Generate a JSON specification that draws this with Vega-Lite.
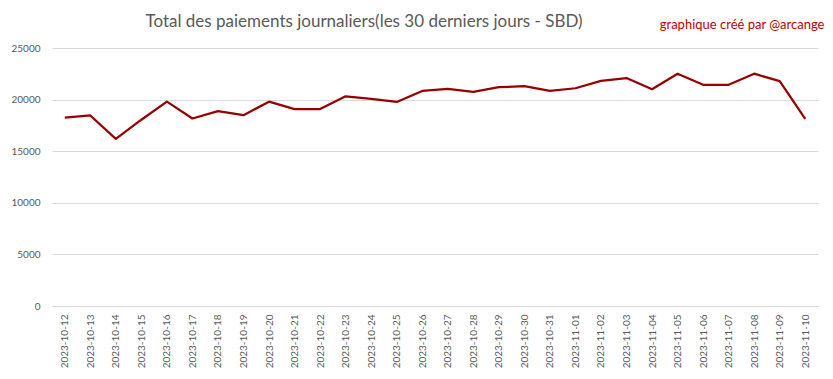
{
  "$schema": "https://vega.github.io/schema/vega-lite/v6.json",
  "width": 766,
  "height": 258,
  "autosize": {"type": "none"},
  "padding": {"left": 52, "top": 48, "right": 15, "bottom": 73},
  "background": "white",
  "config": {
    "font": "Lato",
    "view": {"stroke": null},
    "axis": {"labelFont": "Lato", "titleFont": "Lato"}
  },
  "title": {
    "text": "Total des paiements journaliers(les 30 derniers jours - SBD)",
    "font": "Lato",
    "fontSize": 17,
    "fontWeight": "normal",
    "color": "#595959",
    "anchor": "middle",
    "dx": -71,
    "dy": 17
  },
  "data": {
    "values": [
      {"date": "2023-10-12", "total": 18260},
      {"date": "2023-10-13", "total": 18460},
      {"date": "2023-10-14", "total": 16200},
      {"date": "2023-10-15", "total": 18050},
      {"date": "2023-10-16", "total": 19800},
      {"date": "2023-10-17", "total": 18170},
      {"date": "2023-10-18", "total": 18880},
      {"date": "2023-10-19", "total": 18490},
      {"date": "2023-10-20", "total": 19800},
      {"date": "2023-10-21", "total": 19080},
      {"date": "2023-10-22", "total": 19080},
      {"date": "2023-10-23", "total": 20320},
      {"date": "2023-10-24", "total": 20060},
      {"date": "2023-10-25", "total": 19770},
      {"date": "2023-10-26", "total": 20840},
      {"date": "2023-10-27", "total": 21040},
      {"date": "2023-10-28", "total": 20750},
      {"date": "2023-10-29", "total": 21200},
      {"date": "2023-10-30", "total": 21300},
      {"date": "2023-10-31", "total": 20840},
      {"date": "2023-11-01", "total": 21100},
      {"date": "2023-11-02", "total": 21820},
      {"date": "2023-11-03", "total": 22090},
      {"date": "2023-11-04", "total": 21010},
      {"date": "2023-11-05", "total": 22510},
      {"date": "2023-11-06", "total": 21430},
      {"date": "2023-11-07", "total": 21430},
      {"date": "2023-11-08", "total": 22510},
      {"date": "2023-11-09", "total": 21790},
      {"date": "2023-11-10", "total": 18140}
    ]
  },
  "layer": [
    {
      "mark": {"type": "line", "color": "#960000", "strokeWidth": 2.25, "strokeJoin": "round"},
      "encoding": {
        "x": {
          "field": "date",
          "type": "ordinal",
          "sort": null,
          "scale": {"type": "point", "padding": 0.5},
          "axis": {
            "title": null,
            "labelAngle": -90,
            "labelAlign": "right",
            "labelBaseline": "middle",
            "labelFontSize": 10,
            "labelColor": "#595959",
            "labelPadding": 8,
            "ticks": false,
            "domainColor": "#d9d9d9",
            "domainWidth": 1,
            "grid": false
          }
        },
        "y": {
          "field": "total",
          "type": "quantitative",
          "scale": {"domain": [0, 25000], "nice": false},
          "axis": {
            "title": null,
            "values": [0, 5000, 10000, 15000, 20000, 25000],
            "format": "d",
            "labelFontSize": 10,
            "labelColor": "#595959",
            "labelPadding": 12,
            "ticks": false,
            "domain": false,
            "gridColor": "#d9d9d9",
            "gridWidth": 1
          }
        }
      }
    },
    {
      "mark": {"type": "line", "opacity": 0},
      "encoding": {
        "x": {
          "field": "date",
          "type": "ordinal",
          "sort": null,
          "axis": {
            "orient": "top",
            "title": "graphique créé par @arcange",
            "titleFont": "Lato",
            "titleFontSize": 13,
            "titleFontWeight": "normal",
            "titleColor": "#C00000",
            "titleAlign": "right",
            "titleAnchor": "end",
            "titleX": 772,
            "titleY": -20,
            "titleBaseline": "alphabetic",
            "labels": false,
            "ticks": false,
            "domain": false,
            "grid": false
          }
        },
        "y": {"field": "total", "type": "quantitative"}
      }
    }
  ],
  "resolve": {"axis": {"x": "independent"}}
}
